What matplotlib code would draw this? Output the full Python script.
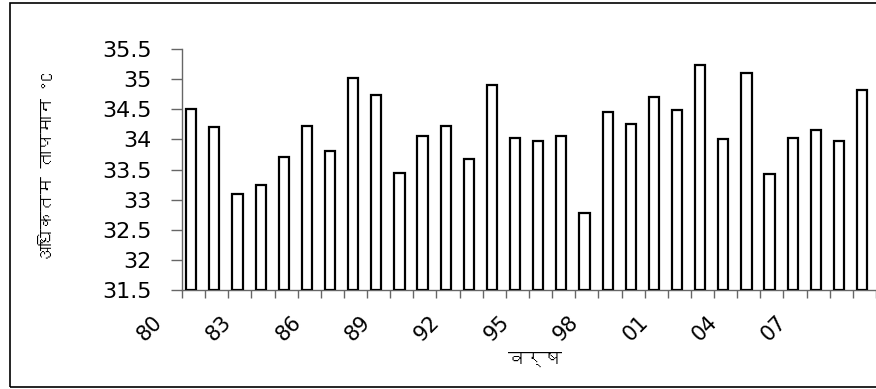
import matplotlib
matplotlib.use('Agg')
import matplotlib.pyplot as plt
from matplotlib import font_manager, ft2font
from matplotlib.patches import Rectangle
from matplotlib.transforms import blended_transform_factory
import numpy as np

# maximum temperature per year, 1980 onwards (last bar is cut off at the right edge)
years = list(range(1980, 2010))
max_temp = [34.5, 34.2, 33.1, 33.25, 33.7, 34.22, 33.8, 35.02, 34.73, 33.45,
            34.05, 34.22, 33.68, 34.9, 34.02, 33.97, 34.05, 32.77, 34.45, 34.25,
            34.7, 34.48, 35.23, 34.0, 35.1, 33.42, 34.02, 34.15, 33.97, 34.82]
tick_labels = ['80', '83', '86', '89', '92', '95', '98', '01', '04', '07']
y_ticks = [31.5, 32, 32.5, 33, 33.5, 34, 34.5, 35, 35.5]


def find_font(ch, fallback='DejaVu Sans'):
    # look for any installed font that has a glyph for ch
    for entry in font_manager.fontManager.ttflist:
        try:
            if ord(ch) in ft2font.FT2Font(entry.fname).get_charmap():
                return entry.name
        except Exception:
            pass
    return fallback


deva = find_font('\u0935')
num_font = 'DejaVu Sans'

fig = plt.figure(figsize=(8.76, 3.89), dpi=100)
ax = fig.add_axes([182 / 876, 99 / 389, 1 - 182 / 876, 241 / 389])

x = np.arange(len(max_temp))
ax.bar(x, [v - 31.5 for v in max_temp], bottom=31.5, width=0.44,
       color='white', edgecolor='black', linewidth=1.6, zorder=3)

ax.set_ylim(31.5, 35.5)
ax.set_xlim(-0.4, -0.4 + 694 / 23.6)
ax.set_yticks(y_ticks)
ax.set_yticklabels([f'{t:g}' for t in y_ticks], fontsize=16, family=num_font)

# ticks between categories
ax.set_xticks(np.arange(-0.4, 30, 1.0))
ax.set_xticklabels([])
ax.tick_params(axis='x', length=5.5, color='#666666', width=1)
ax.tick_params(axis='y', length=8, color='#666666', width=1, pad=14)

# year labels every third bar, rotated
trans = blended_transform_factory(ax.transData, ax.transAxes)
for i, lab in zip(x[::3], tick_labels):
    ax.text(i - 1.8, -0.16, lab, transform=trans, rotation=45,
            ha='center', va='center', fontsize=15, family=num_font)

for side in ['top', 'right']:
    ax.spines[side].set_visible(False)
for side in ['left', 'bottom']:
    ax.spines[side].set_color('#666666')
    ax.spines[side].set_linewidth(1)

fig.text(48 / 876, 1 - 168 / 389, 'अधिकतम तापमान °C', rotation=90,
         ha='center', va='center', fontsize=12.5, family=[deva, 'DejaVu Sans'])
fig.text(535 / 876, 1 - 359 / 389, 'वर्ष', ha='center', va='center',
         fontsize=13, family=[deva, 'DejaVu Sans'])

# outer frame (open on the right, like the cropped original)
fig.patches.append(Rectangle((10 / 876, 2 / 389), 1.0, 384 / 389,
                             transform=fig.transFigure, fill=False,
                             edgecolor='black', linewidth=1.2))

fig.savefig('out.png', dpi=100)
